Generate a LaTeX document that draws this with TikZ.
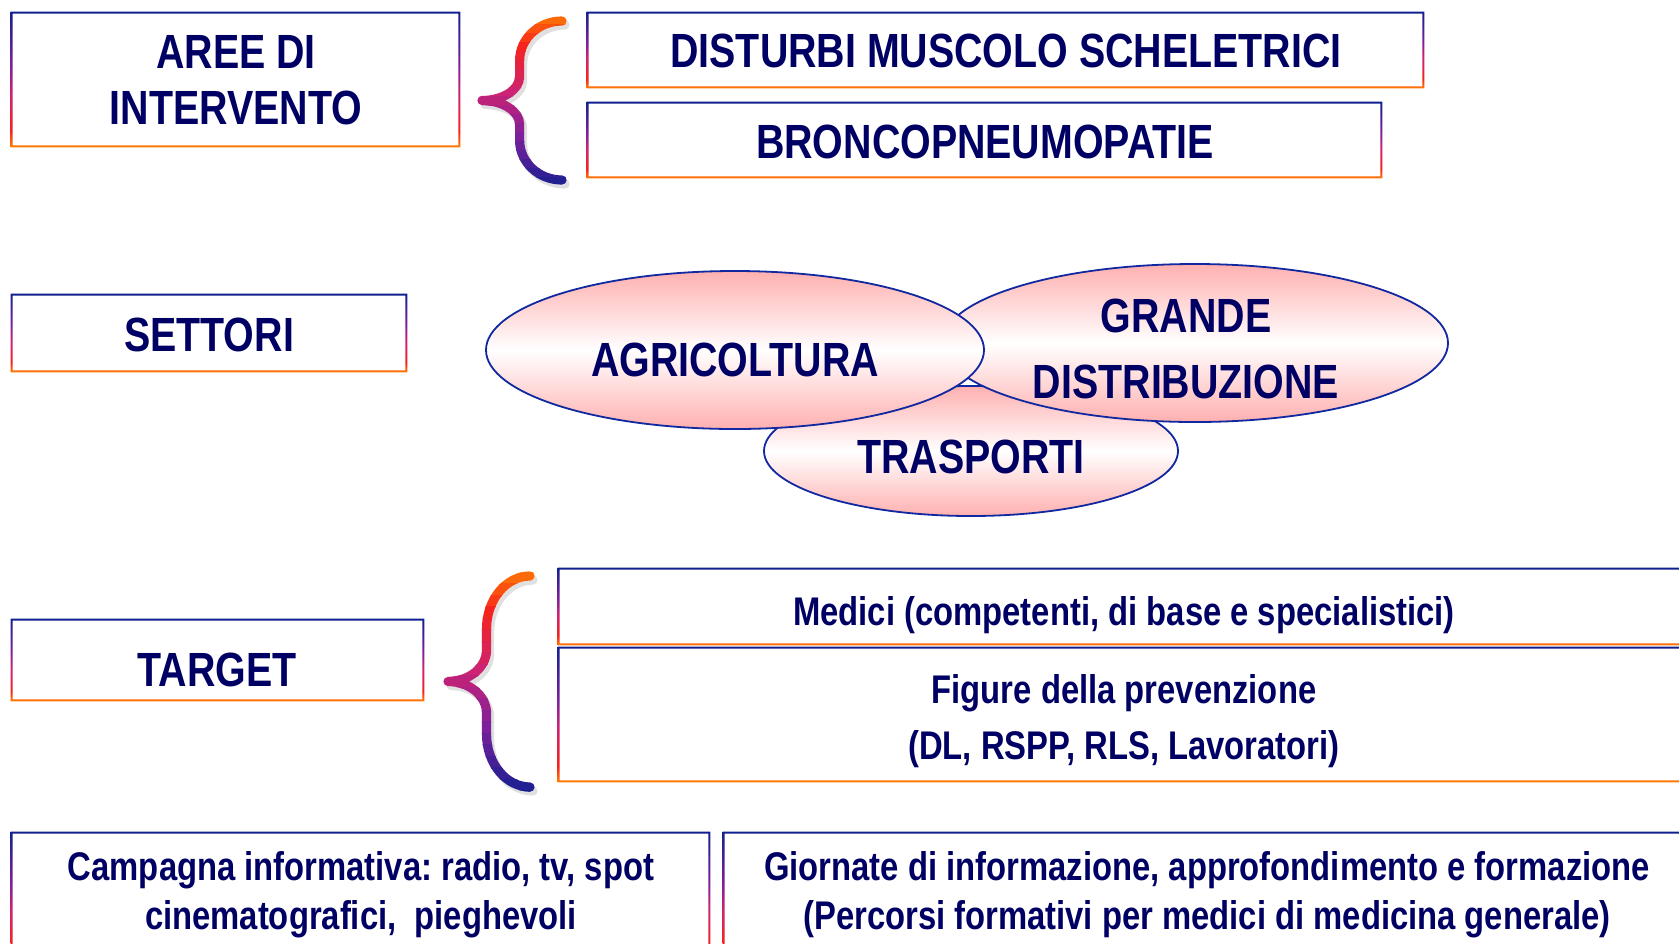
\documentclass[tikz,border=0pt]{standalone}
\usepackage{fontspec}
\newfontfamily\nar{Liberation Sans}[FakeStretch=0.82]
\usetikzlibrary{shapes.geometric,fit}
\frenchspacing
\definecolor{navyb}{RGB}{16,32,144}
\definecolor{orng}{RGB}{255,128,0}
\definecolor{red1}{RGB}{245,35,30}
\definecolor{mag}{RGB}{205,35,115}
\definecolor{purp}{RGB}{125,32,155}
\definecolor{txtc}{RGB}{0,0,100}
\definecolor{pinkc}{RGB}{255,176,176}
\definecolor{ellb}{RGB}{16,40,160}
\colorlet{bc0}{orng}
\colorlet{bc1}{orng!75!red1}
\colorlet{bc2}{orng!50!red1}
\colorlet{bc3}{orng!25!red1}
\colorlet{bc4}{red1}
\colorlet{bc5}{red1!80!mag}
\colorlet{bc6}{red1!60!mag}
\colorlet{bc7}{red1!40!mag}
\colorlet{bc8}{red1!20!mag}
\colorlet{bc9}{mag}
\colorlet{bc10}{mag!80!purp}
\colorlet{bc11}{mag!60!purp}
\colorlet{bc12}{mag!40!purp}
\colorlet{bc13}{mag!20!purp}
\colorlet{bc14}{purp}
\colorlet{bc15}{purp!83!navyb}
\colorlet{bc16}{purp!67!navyb}
\colorlet{bc17}{purp!50!navyb}
\colorlet{bc18}{purp!33!navyb}
\colorlet{bc19}{purp!17!navyb}
\colorlet{bc20}{navyb}
\pgfdeclareverticalshading{bordshade}{100bp}{color(0bp)=(orng); color(25bp)=(orng); color(31bp)=(red1); color(45bp)=(mag); color(55bp)=(purp); color(75bp)=(navyb); color(100bp)=(navyb)}
\newcommand\gborder[1]{\shade[shading=bordshade, even odd rule] (#1.south west) rectangle (#1.north east) ([shift={(1pt,1pt)}]#1.south west) rectangle ([shift={(-1pt,-1pt)}]#1.north east);}
\newcommand\gbrace[4]{%
  \pgfmathsetmacro\bvx{#3+0.47*(#1-#3)}%
  \pgfmathsetmacro\bdx{#1-\bvx}%
  \pgfmathsetmacro\bex{\bvx-#3}%
  \pgfmathsetmacro\bmy{(#2+#4)/2}%
  \pgfmathsetmacro\bH{\bmy-#2}%
  \pgfmathsetmacro\bh{(#4-#2+30)/21}%
  \def\bpath{(#1,#2) .. controls ({#1-0.552*\bdx},#2) and (\bvx,{#2+0.224*\bH}) .. (\bvx,{#2+0.5*\bH}) -- (\bvx,{#2+0.7*\bH}) .. controls (\bvx,{#2+0.866*\bH}) and ({#3+0.552*\bex},\bmy) .. (#3,\bmy) .. controls ({#3+0.552*\bex},\bmy) and (\bvx,{#4-0.866*\bH}) .. (\bvx,{#4-0.7*\bH}) -- (\bvx,{#4-0.5*\bH}) .. controls (\bvx,{#4-0.224*\bH}) and ({#1-0.552*\bdx},#4) .. (#1,#4)}%
  \begin{scope}[shift={(3,4)}]
    \draw[brc, draw=black!12] \bpath;
  \end{scope}
  \foreach \i in {0,...,20}{%
    \begin{scope}
      \clip ({#3-20},{#2-15+\i*\bh}) rectangle ({#1+20},{#2-15+(\i+1)*\bh+0.8});
      \draw[brc, draw=bc\i] \bpath;
    \end{scope}
  }%
}
\begin{document}
\begin{tikzpicture}[x=0.5pt,y=-0.5pt,
  gbox/.style={rectangle, inner sep=0pt, draw=none},
  ell/.style={ellipse, inner sep=0pt, draw=ellb, line width=0.9pt, top color=pinkc, bottom color=pinkc, middle color=white},
  big/.style={text=txtc, font=\nar\bfseries\fontsize{24}{28}\selectfont, align=center, inner sep=0pt},
  small/.style={text=txtc, font=\nar\bfseries\fontsize{20}{28}\selectfont, align=center, inner sep=0pt},
  brc/.style={line width=4.6pt, line cap=round, line join=round},
]
\clip (0,0) rectangle (1679,943);
\fill[white] (0,0) rectangle (1679,943);

\node[gbox, fit={(11,12) (460,147)}] (bAree) {};
\node[gbox, fit={(587,12) (1424,88)}] (bDist) {};
\node[gbox, fit={(587,102) (1382,178)}] (bBronc) {};
\node[gbox, fit={(11,294) (407,372)}] (bSett) {};
\node[gbox, fit={(11,619) (424,701)}] (bTarg) {};
\node[gbox, fit={(558,568) (1700,645)}] (bMed) {};
\node[gbox, fit={(558,647) (1700,782)}] (bFig) {};
\node[gbox, fit={(11,832) (710,960)}] (bCamp) {};
\node[gbox, fit={(723,832) (1700,960)}] (bGior) {};
\foreach \b in {bAree,bDist,bBronc,bSett,bTarg,bMed,bFig,bCamp,bGior}{\gborder{\b}}

\node[ell, minimum width=207pt, minimum height=65pt] (eTrasp) at (971,451) {};
\node[ell, minimum width=253pt, minimum height=79pt] (eGrande) at (1195,343) {};
\node[ell, minimum width=249pt, minimum height=79pt] (eAgri) at (735,350) {};

\gbrace{562}{21}{482}{180}
\gbrace{530}{576}{448}{787}

\node[big] (tAree) at (236,80) {AREE DI\\INTERVENTO};
\node[big] (tDist) at (1006,51) {DISTURBI MUSCOLO SCHELETRICI};
\node[big] (tBronc) at (985,142) {BRONCOPNEUMOPATIE};
\node[big] (tSett) at (209,335) {SETTORI};
\node[big] (tAgri) at (735,360) {AGRICOLTURA};
\node[big, font=\nar\bfseries\fontsize{24}{32.6}\selectfont] (tGrande) at (1186,349) {GRANDE\\DISTRIBUZIONE};
\node[big] (tTrasp) at (971,457) {TRASPORTI};
\node[big] (tTarg) at (217,670) {TARGET};
\node[small] (tMed) at (1124,615) {Medici (competenti, di base e specialistici)};
\node[small] (tFig) at (1124,721) {Figure della prevenzione\\(DL, RSPP, RLS, Lavoratori)};
\node[small, font=\nar\bfseries\fontsize{20}{24.5}\selectfont] (tCamp) at (361,895) {Campagna informativa: radio, tv, spot\\cinematografici,\ \ pieghevoli};
\node[small, font=\nar\bfseries\fontsize{20}{24.5}\selectfont] (tGior) at (1207,895) {Giornate di informazione, approfondimento e formazione\\(Percorsi formativi per medici di medicina generale)};
\end{tikzpicture}
\end{document}
